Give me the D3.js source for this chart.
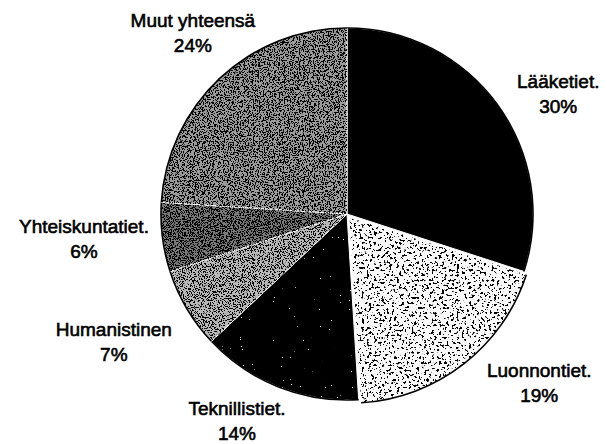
<!DOCTYPE html>
<html>
<head>
<meta charset="utf-8">
<script src="https://cdn.jsdelivr.net/npm/d3@7"></script>
<style>
  body { margin: 0; background: #fff; }
  svg { display: block; }
  .lbl { font-family: "Liberation Sans", Arial, sans-serif; font-size: 19px; fill: #000; stroke: #000; stroke-width: 0.6px; }
</style>
</head>
<body>
<div id="chart"></div>
<script>
// slices, clockwise from 12 o'clock
var categories = ["Lääketiet.", "Luonnontiet.", "Teknillistiet.", "Humanistinen", "Yhteiskuntatiet.", "Muut yhteensä"];
var shares = [30, 19, 14, 7, 6, 24];
var shareLabels = ["30%", "19%", "14%", "7%", "6%", "24%"];

var width = 607, height = 444;
var cx = 347, cy = 214, radius = 186;

// look of each slice: base fill + speckle colour / density
var baseFill = ["#000", "#f8f8f8", "#000", "#b8b8b8", "#7a7a7a", "#9c9c9c"];
var speckColor = ["#000", "#000", "#fff", "#000", "#000", "#000"];
var speckThresh = [0, 0.4, 0.2, 0.46, 0.5, 0.48];
var speckFreq = [0.8, 0.4, 0.9, 0.9, 0.9, 0.8];
// the light slice is pulled out a little
var explode = [0, 4, 0, 0, 0, 0];
// label nudges away from the slice mid-angle anchor
var labelNudge = [[9, 33], [39, -22], [-18, -19], [-18, 7], [-15, 0], [17, 8]];

var svg = d3.select("#chart").append("svg")
  .attr("width", width)
  .attr("height", height);

var defs = svg.append("defs");

// speckle filters: threshold a noise field into a dot mask clipped to the shape
shares.forEach(function (s, i) {
  var f = defs.append("filter")
    .attr("id", "speck" + i)
    .attr("x", 0).attr("y", 0).attr("width", 1).attr("height", 1)
    .attr("color-interpolation-filters", "sRGB");
  f.append("feTurbulence")
    .attr("type", "fractalNoise")
    .attr("baseFrequency", speckFreq[i])
    .attr("numOctaves", 3)
    .attr("seed", 7 + i * 5)
    .attr("result", "noise");
  var t = speckThresh[i];
  f.append("feColorMatrix")
    .attr("in", "noise")
    .attr("type", "matrix")
    .attr("values", "0 0 0 0 0  0 0 0 0 0  0 0 0 0 0  -30 0 0 0 " + (30 * t))
    .attr("result", "mask");
  f.append("feFlood").attr("flood-color", speckColor[i]).attr("result", "col");
  f.append("feComposite").attr("in", "col").attr("in2", "mask").attr("operator", "in").attr("result", "dots");
  f.append("feComposite").attr("in", "dots").attr("in2", "SourceAlpha").attr("operator", "in");
});

var pie = d3.pie().sort(null).value(function (d) { return d; });
var arcs = pie(shares);

var arc = d3.arc().innerRadius(0).outerRadius(radius);
var rim = d3.arc().innerRadius(radius - 0.8).outerRadius(radius + 0.8);

var g = svg.append("g").attr("transform", "translate(" + cx + "," + cy + ")");

var slice = g.selectAll("g.slice")
  .data(arcs)
  .enter()
  .append("g")
  .attr("class", "slice")
  .attr("transform", function (d, i) {
    var a = (d.startAngle + d.endAngle) / 2;
    return "translate(" + (Math.sin(a) * explode[i]) + "," + (-Math.cos(a) * explode[i]) + ")";
  });

slice.append("path")
  .attr("d", arc)
  .attr("fill", function (d, i) { return baseFill[i]; })
  .attr("stroke", "#fff")
  .attr("stroke-width", 1);

slice.filter(function (d, i) { return speckThresh[i] > 0; })
  .append("path")
  .attr("d", arc)
  .attr("fill", "#000")
  .attr("filter", function (d) { return "url(#speck" + d.index + ")"; });

slice.append("path")
  .attr("d", rim)
  .attr("fill", "#000");

// labels
var labelR = 250;
var labels = svg.append("g").selectAll("text")
  .data(arcs)
  .enter()
  .append("text")
  .attr("class", "lbl")
  .attr("text-anchor", "middle")
  .attr("transform", function (d, i) {
    var a = (d.startAngle + d.endAngle) / 2;
    var x = cx + Math.sin(a) * labelR + labelNudge[i][0];
    var y = cy - Math.cos(a) * labelR + labelNudge[i][1];
    return "translate(" + x + "," + y + ")";
  });

labels.append("tspan")
  .attr("x", 0)
  .attr("y", -12.5)
  .text(function (d, i) { return categories[i]; });

labels.append("tspan")
  .attr("x", 0)
  .attr("y", 12.5)
  .text(function (d, i) { return shareLabels[i]; });
</script>
</body>
</html>
